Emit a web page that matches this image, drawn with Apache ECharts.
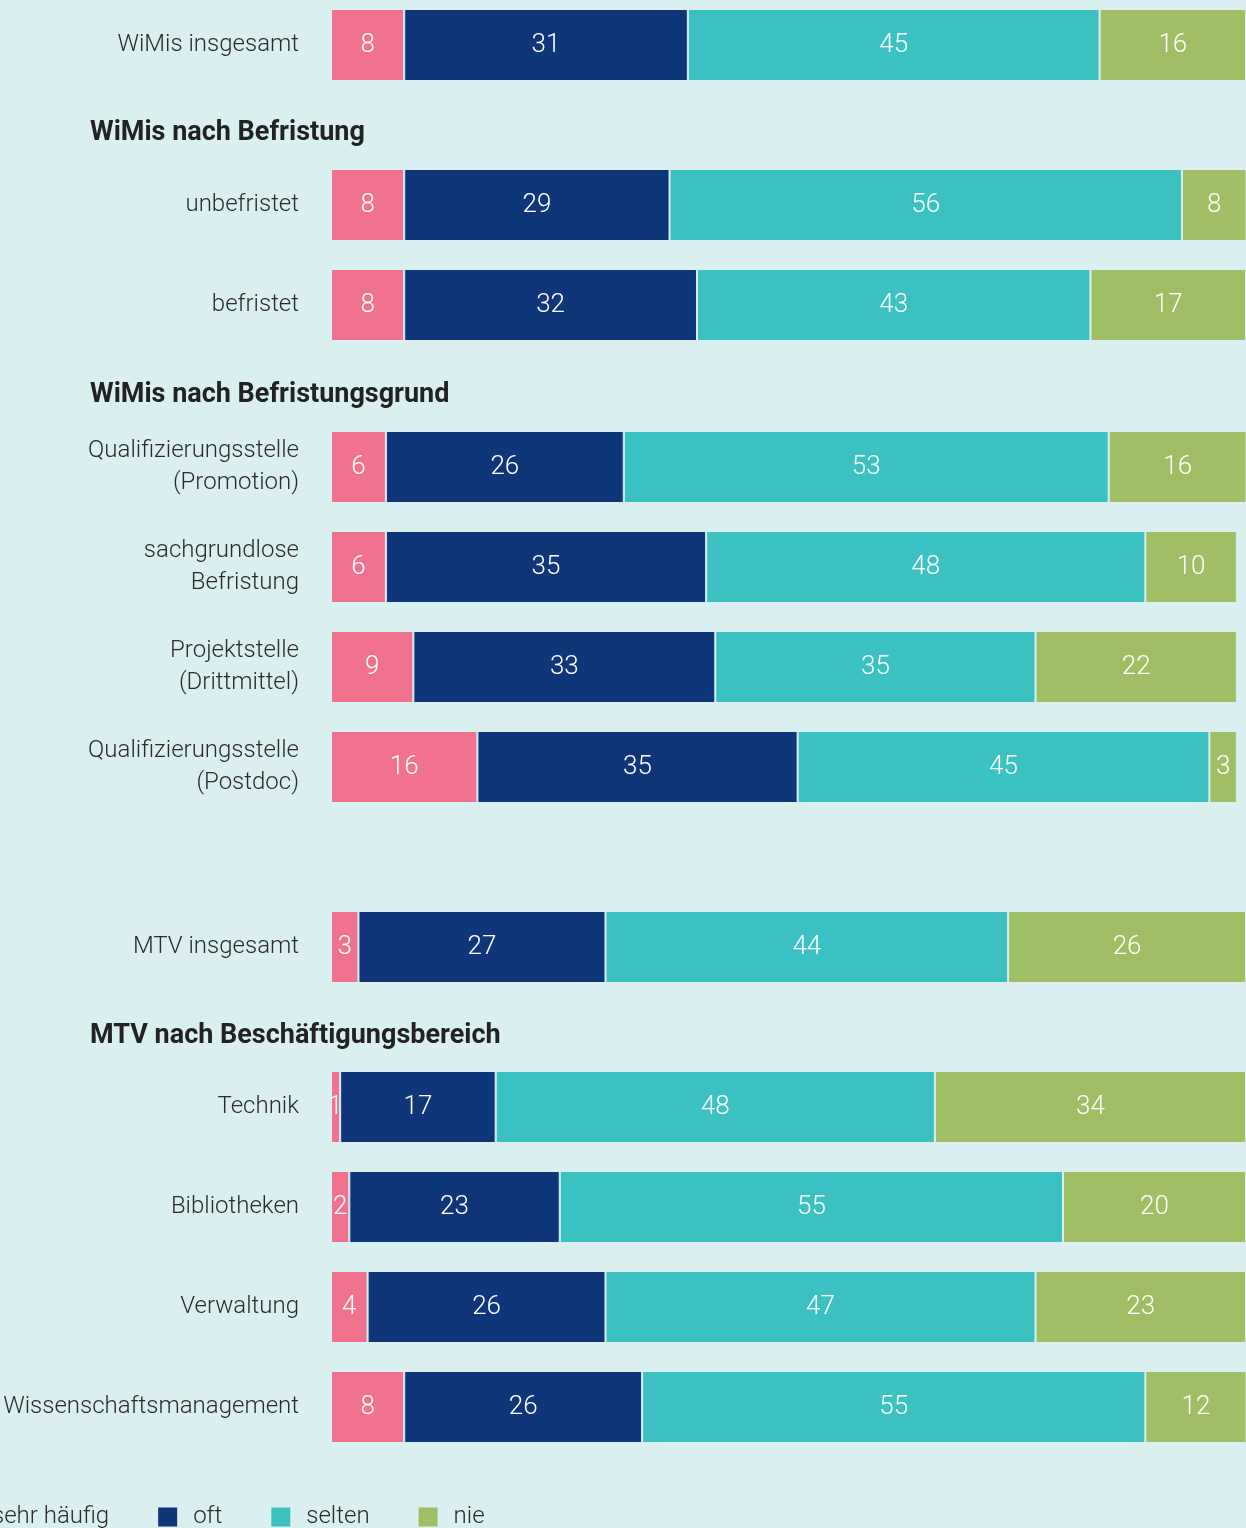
<!DOCTYPE html>
<html>
<head>
<meta charset="utf-8">
<script src="https://cdn.jsdelivr.net/npm/echarts@6/dist/echarts.min.js"></script>
<style>
  html, body { margin: 0; padding: 0; background: #daeff0; }
  #chart { width: 1246px; height: 1528px; }
</style>
</head>
<body>
<div id="chart"></div>
<script>
// Zeilen (von oben nach unten)
const categories = [
  'WiMis insgesamt',
  'unbefristet', 'befristet',
  'Qualifizierungsstelle\n(Promotion)', 'sachgrundlose\nBefristung', 'Projektstelle\n(Drittmittel)', 'Qualifizierungsstelle\n(Postdoc)',
  'MTV insgesamt',
  'Technik', 'Bibliotheken', 'Verwaltung', 'Wissenschaftsmanagement'
];
const sehrHaeufig = [8, 8, 8, 6, 6, 9, 16, 3, 1, 2, 4, 8];
const oft         = [31, 29, 32, 26, 35, 33, 35, 27, 17, 23, 26, 26];
const selten      = [45, 56, 43, 53, 48, 35, 45, 44, 48, 55, 47, 55];
const nie         = [16, 8, 17, 16, 10, 22, 3, 26, 34, 20, 23, 12];
const seriesNames = ['sehr häufig', 'oft', 'selten', 'nie'];

// Gruppen: Überschrift + Anzahl Zeilen
const groupTitles = ['', 'WiMis nach Befristung', 'WiMis nach Befristungsgrund', '', 'MTV nach Beschäftigungsbereich'];
const groupSizes  = [1, 2, 4, 1, 4];

const FONT = 'Roboto, sans-serif';
const colors = ['#f0728f', '#10367a', '#3cc1c2', '#9fbe66'];
const values = [sehrHaeufig, oft, selten, nie];

// layout der einzelnen Blöcke
const gridTops = [1, 155, 417, 903, 1057];
const titleTops = [0, 120, 382, 0, 1023];

let chart = echarts.init(document.getElementById('chart'));

let grids = [], xAxes = [], yAxes = [], series = [], titles = [];
let start = 0;
groupSizes.forEach((n, g) => {
  grids.push({
    left: 331,
    right: 0,
    top: gridTops[g],
    height: n === 1 ? 88 : n * 100,
    outerBoundsMode: 'none',
  });
  xAxes.push({ gridIndex: g, type: 'value', min: 0, max: 100, show: false });
  yAxes.push({
    gridIndex: g,
    type: 'category',
    inverse: true,
    data: categories.slice(start, start + n),
    axisLine: { show: false },
    axisTick: { show: false },
    splitLine: { show: false },
    axisLabel: {
      color: '#2b2b2b',
      fontFamily: FONT,
      fontWeight: 300,
      fontSize: 24,
      lineHeight: 32,
      margin: 32,
      align: 'right',
    },
  });
  if (groupTitles[g]) {
    titles.push({
      text: groupTitles[g],
      left: 90,
      top: titleTops[g],
      padding: 0,
      textStyle: { fontFamily: FONT, fontSize: 27, fontWeight: 'bold', color: '#222' },
    });
  }
  seriesNames.forEach((name, k) => {
    series.push({
      name: name,
      type: 'bar',
      stack: 'g' + g,
      xAxisIndex: g,
      yAxisIndex: g,
      barWidth: 72,
      data: values[k].slice(start, start + n),
      itemStyle: { color: colors[k], borderColor: '#daeff0', borderWidth: 1 },
      label: {
        show: true,
        position: 'inside',
        color: '#fff',
        fontFamily: FONT,
        fontWeight: 300,
        fontSize: 26,
      },
      emphasis: { disabled: true },
    });
  });
  start += n;
});

chart.setOption({
  backgroundColor: '#daeff0',
  animation: false,
  color: colors,
  title: titles,
  grid: grids,
  xAxis: xAxes,
  yAxis: yAxes,
  legend: {
    data: seriesNames,
    left: -50,
    top: 1500,
    icon: 'rect',
    itemWidth: 21,
    itemHeight: 21,
    itemGap: 47,
    textStyle: { color: '#2b2b2b', fontFamily: FONT, fontWeight: 300, fontSize: 24, padding: [0, 0, 0, 10] },
  },
  series: series,
});
</script>
</body>
</html>
